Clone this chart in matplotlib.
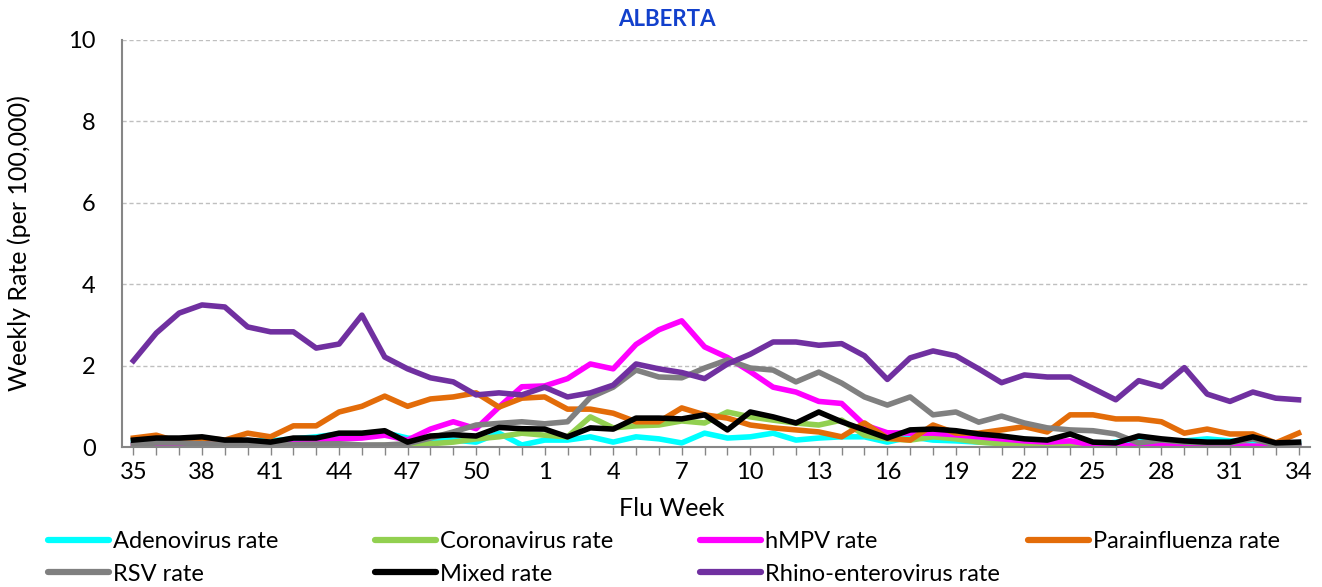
import numpy as np
import matplotlib.pyplot as plt
from matplotlib.lines import Line2D

plt.rcParams['font.family'] = ['Lato', 'DejaVu Sans']

# flu weeks 35..52 then 1..34
settimane = list(range(35, 53)) + list(range(1, 35))

adeno = [0.15, 0.15, 0.15, 0.20, 0.15, 0.15, 0.15, 0.20, 0.25, 0.32,
         0.30, 0.35, 0.22, 0.17, 0.17, 0.12, 0.34, 0.05, 0.17, 0.17,
         0.25, 0.12, 0.25, 0.20, 0.10, 0.34, 0.22, 0.25, 0.34, 0.17,
         0.22, 0.25, 0.25, 0.12, 0.25, 0.17, 0.15, 0.12, 0.10, 0.05,
         0.10, 0.08, 0.05, 0.12, 0.18, 0.15, 0.15, 0.20, 0.15, 0.12,
         0.05, 0.10]
corona = [0.02, 0.02, 0.03, 0.02, 0.02, 0.03, 0.02, 0.03, 0.02, 0.03,
          0.03, 0.04, 0.05, 0.08, 0.12, 0.20, 0.25, 0.34, 0.29, 0.25,
          0.74, 0.47, 0.52, 0.54, 0.64, 0.59, 0.86, 0.74, 0.66, 0.59,
          0.54, 0.66, 0.29, 0.20, 0.17, 0.25, 0.20, 0.12, 0.08, 0.05,
          0.04, 0.03, 0.05, 0.03, 0.02, 0.02, 0.03, 0.02, 0.02, 0.02,
          0.02, 0.02]
hmpv = [0.05, 0.02, 0.05, 0.08, 0.08, 0.05, 0.05, 0.08, 0.12, 0.20,
        0.22, 0.29, 0.17, 0.44, 0.62, 0.45, 0.98, 1.48, 1.50, 1.68,
        2.04, 1.92, 2.52, 2.88, 3.10, 2.46, 2.20, 1.85, 1.47, 1.35,
        1.12, 1.07, 0.54, 0.35, 0.34, 0.34, 0.30, 0.25, 0.20, 0.15,
        0.12, 0.15, 0.05, 0.02, 0.05, 0.05, 0.02, 0.02, 0.03, 0.02,
        0.02, 0.02]
parainf = [0.22, 0.29, 0.12, 0.22, 0.17, 0.34, 0.25, 0.52, 0.52, 0.86,
           1.00, 1.25, 1.00, 1.18, 1.23, 1.33, 0.98, 1.20, 1.23, 0.93,
           0.93, 0.83, 0.62, 0.62, 0.96, 0.79, 0.71, 0.54, 0.47, 0.42,
           0.37, 0.25, 0.59, 0.22, 0.17, 0.54, 0.34, 0.34, 0.42, 0.50,
           0.37, 0.79, 0.79, 0.69, 0.69, 0.62, 0.34, 0.44, 0.32, 0.32,
           0.10, 0.34]
rsv = [0.05, 0.10, 0.10, 0.08, 0.07, 0.06, 0.05, 0.06, 0.07, 0.08,
       0.05, 0.05, 0.08, 0.22, 0.37, 0.54, 0.58, 0.62, 0.57, 0.62,
       1.22, 1.47, 1.89, 1.72, 1.70, 1.94, 2.14, 1.94, 1.89, 1.60,
       1.84, 1.57, 1.23, 1.03, 1.23, 0.79, 0.86, 0.61, 0.76, 0.59,
       0.47, 0.42, 0.40, 0.32, 0.10, 0.17, 0.12, 0.10, 0.10, 0.20,
       0.05, 0.08]
mixed = [0.17, 0.22, 0.22, 0.25, 0.17, 0.17, 0.12, 0.22, 0.22, 0.34,
         0.34, 0.40, 0.12, 0.27, 0.30, 0.27, 0.48, 0.45, 0.44, 0.25,
         0.47, 0.44, 0.71, 0.71, 0.69, 0.79, 0.42, 0.86, 0.74, 0.59,
         0.86, 0.62, 0.42, 0.22, 0.42, 0.44, 0.40, 0.32, 0.27, 0.20,
         0.17, 0.32, 0.12, 0.10, 0.27, 0.20, 0.15, 0.12, 0.12, 0.25,
         0.10, 0.12]
rhino = [2.12, 2.80, 3.29, 3.49, 3.44, 2.95, 2.83, 2.83, 2.43, 2.53,
         3.24, 2.21, 1.92, 1.70, 1.60, 1.28, 1.33, 1.28, 1.47, 1.23,
         1.33, 1.52, 2.04, 1.92, 1.83, 1.68, 2.04, 2.28, 2.58, 2.58,
         2.50, 2.54, 2.24, 1.66, 2.19, 2.36, 2.24, 1.92, 1.58, 1.77,
         1.72, 1.72, 1.44, 1.16, 1.63, 1.48, 1.95, 1.30, 1.12, 1.35,
         1.20, 1.16]

serie = [
    ("Adenovirus rate", adeno, "#00FFFF"),
    ("Coronavirus rate", corona, "#92D050"),
    ("hMPV rate", hmpv, "#FF00FF"),
    ("Parainfluenza rate", parainf, "#E36C09"),
    ("RSV rate", rsv, "#808080"),
    ("Mixed rate", mixed, "#000000"),
    ("Rhino-enterovirus rate", rhino, "#7030A0"),
]

fig = plt.figure(figsize=(13.22, 5.87), dpi=100)
ax = fig.add_axes([0.0923, 0.2385, 0.8986, 0.6934])

x = np.arange(len(settimane))
for nome, valori, colore in serie:
    ax.plot(x, valori, color=colore, linewidth=4, solid_joinstyle="round")

ax.set_xlim(-0.5, len(settimane) - 0.5)
ax.set_ylim(0, 10)
ax.set_yticks([0, 2, 4, 6, 8, 10])
ax.grid(axis="y", color="#BFBFBF", linestyle=(0, (3, 2)), linewidth=1)
ax.set_axisbelow(True)

etichette = [str(s) if i % 3 == 0 else "" for i, s in enumerate(settimane)]
ax.set_xticks(x)
ax.set_xticklabels(etichette)
ax.tick_params(axis="x", length=6, width=1, color="#868686", pad=5, labelsize=17)
ax.tick_params(axis="y", length=0, pad=19, labelsize=17)

for lato in ["top", "right"]:
    ax.spines[lato].set_visible(False)
for lato in ["left", "bottom"]:
    ax.spines[lato].set_color("#868686")
    ax.spines[lato].set_linewidth(1.5)

ax.set_ylabel("Weekly Rate (per 100,000)", fontsize=18)
ax.yaxis.set_label_coords(-0.077, 0.5)
ax.set_xlabel("Flu Week", fontsize=18)
ax.xaxis.set_label_coords(0.463, -0.122)

fig.text(0.5045, 0.966, "ALBERTA", color="#1240CC", fontsize=16,
         fontweight="bold", ha="center", va="center")

# legenda come in Excel, colonne uguali
col_x = [0.0363, 0.2837, 0.5295, 0.7776]
riga_y = [0.0767, 0.0221]
for k, (nome, valori, colore) in enumerate(serie):
    h = Line2D([], [], color=colore, linewidth=4.5, solid_capstyle="round")
    fig.legend(handles=[h], labels=[nome], loc="center left",
               bbox_to_anchor=(col_x[k % 4], riga_y[k // 4]),
               frameon=False, fontsize=17, handlelength=2.6,
               handletextpad=0.15, borderpad=0, borderaxespad=0)

fig.savefig("out.png", dpi=100)
